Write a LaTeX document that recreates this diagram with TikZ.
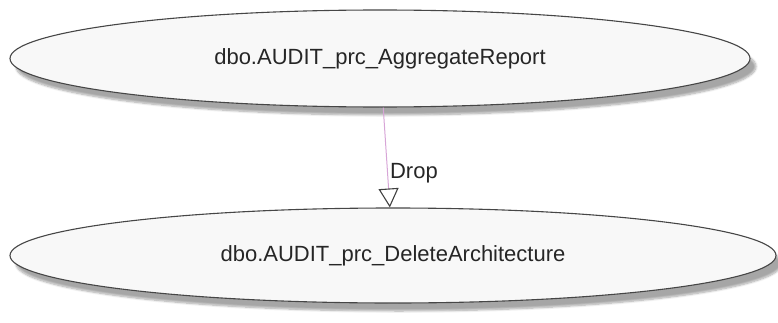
\documentclass[tikz,border=0pt]{standalone}
\usepackage{fontspec}
\setmainfont{Liberation Sans}
\usepackage{xcolor}
\usepackage{tikz}
\usetikzlibrary{shapes.geometric,shadows.blur,arrows.meta}

\definecolor{edgepink}{RGB}{215,165,215}
\definecolor{procfill}{RGB}{248,248,248}
\definecolor{procline}{RGB}{70,70,70}

\begin{document}
\begin{tikzpicture}[x=1pt,y=1pt,
    proc/.style={shape=ellipse, draw=procline, line width=1.1pt, fill=procfill, inner sep=0pt,
      text=black!85, font=\fontsize{22}{26}\selectfont,
      blur shadow={shadow xshift=6pt, shadow yshift=-8pt, shadow blur steps=8, shadow opacity=35}},
    dep/.style={draw=edgepink, line width=1pt,
      -{Triangle[open, length=19pt, width=20pt, color=black!75, line width=1.1pt]}}]
    \useasboundingbox (0,0) rectangle (778,322);

    \node[proc, minimum width=740pt, minimum height=97pt] (aggregate) at (380,263.5) {dbo.AUDIT\_prc\_AggregateReport};
    \node[proc, minimum width=766pt, minimum height=95pt] (delete) at (393,66.5) {dbo.AUDIT\_prc\_DeleteArchitecture};

    \draw[dep] (aggregate) -- node[pos=0.66, anchor=west, inner sep=2pt, text=black!85, font=\fontsize{22}{26}\selectfont] (droplabel) {Drop} (delete);
  \end{tikzpicture}
\end{document}
